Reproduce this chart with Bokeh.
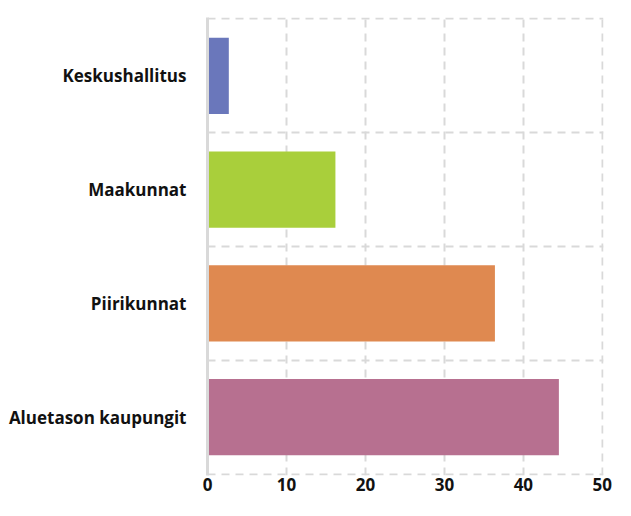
from bokeh.plotting import figure
from bokeh.models import FixedTicker, Range1d
from bokeh.embed import file_html
from bokeh.resources import INLINE

categories = ["Keskushallitus", "Maakunnat", "Piirikunnat", "Aluetason kaupungit"]
values = [2.7, 16.2, 36.4, 44.5]
colors = ["#6a77bb", "#a9cf3b", "#df8950", "#b77090"]
x_ticks = [0, 10, 20, 30, 40, 50]

n = len(categories)
ypos = [n - i - 0.5 for i in range(n)]

p = figure(width=615, height=500, output_backend="svg", toolbar_location=None,
           x_range=Range1d(0, 50.15), y_range=Range1d(-0.012, n + 0.012),
           min_border_left=207, min_border_right=12, min_border_top=17, min_border_bottom=25)
p.outline_line_color = None

p.hbar(y=ypos, left=0, right=values, height=0.67, color=colors, line_color=None)

p.xaxis.ticker = FixedTicker(ticks=x_ticks)
p.xaxis.axis_line_color = None
p.xaxis.major_tick_line_color = None
p.xaxis.minor_tick_line_color = None
p.xaxis.major_tick_out = 0
p.xaxis.major_tick_in = 0
p.xaxis.minor_tick_out = 0
p.xaxis.major_label_text_font = "Open Sans"
p.xaxis.major_label_text_font_style = "bold"
p.xaxis.major_label_text_font_size = "17px"
p.xaxis.major_label_text_color = "#111111"
p.xaxis.major_label_standoff = 2

p.yaxis.ticker = FixedTicker(ticks=ypos)
p.yaxis.major_label_overrides = {y: c for y, c in zip(ypos, categories)}
p.yaxis.axis_line_color = "#d9d9d9"
p.yaxis.axis_line_width = 3
p.yaxis.major_tick_line_color = None
p.yaxis.minor_tick_line_color = None
p.yaxis.major_tick_out = 0
p.yaxis.major_tick_in = 0
p.yaxis.minor_tick_out = 0
p.yaxis.major_label_text_font = "Open Sans"
p.yaxis.major_label_text_font_style = "bold"
p.yaxis.major_label_text_font_size = "17px"
p.yaxis.major_label_text_color = "#111111"
p.yaxis.major_label_standoff = 21

p.xgrid.ticker = FixedTicker(ticks=x_ticks)
p.ygrid.ticker = FixedTicker(ticks=list(range(n + 1)))
for g in (p.xgrid, p.ygrid):
    g.grid_line_color = "#d9d9d9"
    g.grid_line_width = 2
    g.grid_line_dash = "8 6"

open("out.html", "w").write(file_html(p, INLINE))
